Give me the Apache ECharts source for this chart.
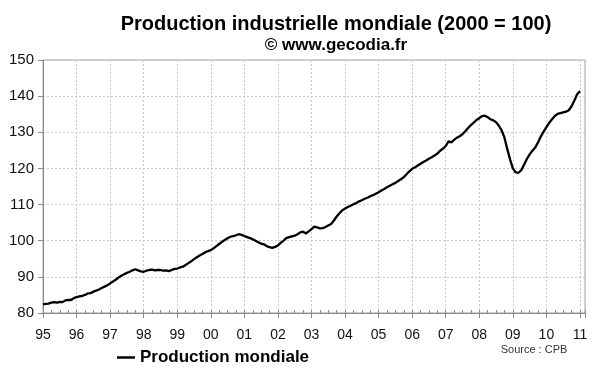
<!DOCTYPE html>
<html>
<head>
<meta charset="utf-8">
<script src="https://cdn.jsdelivr.net/npm/echarts@6/dist/echarts.min.js"></script>
<style>html,body{margin:0;padding:0;background:#fff}#c{width:600px;height:372px}</style>
</head>
<body>
<div id="c"></div>
<script>
// Monthly index, Jan 1995 .. Jan 2011 (2000 = 100)
const startYear = 1995;
const yearLabels = ['95','96','97','98','99','00','01','02','03','04','05','06','07','08','09','10','11'];
const v1995 = [82.4, 82.5, 82.6, 82.9, 83.0, 82.9, 83.1, 83.0, 83.5, 83.6, 83.6, 84.1];
const v1996 = [84.4, 84.6, 84.7, 85.0, 85.4, 85.5, 85.9, 86.2, 86.5, 86.9, 87.3, 87.7];
const v1997 = [88.2, 88.7, 89.2, 89.8, 90.3, 90.7, 91.1, 91.4, 91.8, 92.1, 91.8, 91.5];
const v1998 = [91.4, 91.7, 91.9, 92.0, 91.8, 91.9, 91.9, 91.7, 91.8, 91.6, 91.9, 92.2];
const v1999 = [92.3, 92.6, 92.8, 93.3, 93.8, 94.3, 94.9, 95.4, 95.9, 96.3, 96.8, 97.1];
const v2000 = [97.4, 97.9, 98.5, 99.1, 99.7, 100.2, 100.7, 101.1, 101.3, 101.5, 101.8, 101.6];
const v2001 = [101.3, 101.0, 100.7, 100.4, 100.0, 99.6, 99.2, 99.0, 98.5, 98.2, 98.0, 98.3];
const v2002 = [98.7, 99.4, 100.0, 100.7, 101.0, 101.2, 101.4, 101.8, 102.3, 102.5, 102.0, 102.6];
const v2003 = [103.2, 103.9, 103.7, 103.4, 103.5, 103.8, 104.2, 104.6, 105.6, 106.7, 107.6, 108.4];
const v2004 = [108.9, 109.3, 109.7, 110.1, 110.4, 110.9, 111.2, 111.6, 111.9, 112.3, 112.6, 113.0];
const v2005 = [113.4, 113.9, 114.3, 114.8, 115.2, 115.6, 116.0, 116.5, 117.0, 117.6, 118.4, 119.2];
const v2006 = [119.9, 120.3, 120.8, 121.3, 121.8, 122.2, 122.7, 123.1, 123.6, 124.1, 124.9, 125.5];
const v2007 = [126.2, 127.5, 127.2, 127.9, 128.5, 128.9, 129.5, 130.3, 131.2, 132.0, 132.7, 133.4];
const v2008 = [133.9, 134.5, 134.6, 134.2, 133.6, 133.3, 132.8, 131.8, 130.5, 128.5, 125.4, 122.5];
const v2009 = [120.0, 118.9, 118.8, 119.5, 121.0, 122.6, 123.9, 124.9, 125.8, 127.2, 128.8, 130.2];
const v2010 = [131.4, 132.6, 133.6, 134.5, 135.1, 135.3, 135.5, 135.7, 136.1, 137.2, 138.8, 140.5];
const v2011 = [141.4];

const values = [].concat(v1995, v1996, v1997, v1998, v1999, v2000, v2001, v2002, v2003,
  v2004, v2005, v2006, v2007, v2008, v2009, v2010, v2011);
const seriesData = values.map((v, i) => [i / 12, v]);

const xMax = 16.15;
const gridCol = '#c8c8c8';
const axisCol = '#8c8c8c';
const font = 'Liberation Sans, Arial, sans-serif';

const chart = echarts.init(document.getElementById('c'), null, {renderer: 'canvas'});
chart.setOption({
  backgroundColor: '#fff',
  animation: false,
  grid: {left: 43, right: 15, top: 60, bottom: 59, show: true, borderColor: '#a0a0a0', borderWidth: 1, backgroundColor: 'transparent'},
  graphic: [
    {type: 'text', x: 336, y: 24, style: {text: 'Production industrielle mondiale (2000 = 100)', font: 'bold 20px ' + font, fill: '#000', textAlign: 'center', textVerticalAlign: 'middle'}},
    {type: 'text', x: 336, y: 45, style: {text: '© www.gecodia.fr', font: 'bold 17px ' + font, fill: '#000', textAlign: 'center', textVerticalAlign: 'middle'}},
    {type: 'text', x: 534, y: 350, style: {text: 'Source : CPB', font: '11px ' + font, fill: '#333', textAlign: 'center', textVerticalAlign: 'middle'}}
  ],
  legend: {
    left: 112, top: 344, icon: 'rect', itemWidth: 18, itemHeight: 2.5, itemGap: 6,
    textStyle: {fontFamily: font, fontWeight: 'bold', fontSize: 17, color: '#000'},
    data: ['Production mondiale']
  },
  xAxis: [{
    type: 'value', min: 0, max: xMax, interval: 1,
    axisLine: {show: true, lineStyle: {color: axisCol, width: 1}},
    axisTick: {show: true, inside: true, length: 3, lineStyle: {color: axisCol}},
    minorTick: {show: true, splitNumber: 4, length: 3, lineStyle: {color: axisCol}},
    axisLabel: {
      show: true, margin: 15, fontFamily: font, fontSize: 14, color: '#111',
      formatter: function (v) {
        const r = Math.round(v);
        if (Math.abs(v - r) > 1e-6) return '';
        return yearLabels[r] || '';
      }
    },
    splitLine: {show: true, lineStyle: {color: gridCol, type: [2, 2], width: 1}}
  }, {
    type: 'value', min: 0, max: xMax, interval: 1, position: 'bottom', gridIndex: 0,
    axisLine: {show: false},
    axisTick: {show: true, inside: false, length: 5, lineStyle: {color: axisCol}},
    axisLabel: {show: false},
    splitLine: {show: false}
  }],
  yAxis: {
    type: 'value', min: 80, max: 150, interval: 10,
    axisLine: {show: true, lineStyle: {color: axisCol, width: 1}},
    axisTick: {show: true, inside: false, length: 5, lineStyle: {color: axisCol}},
    axisLabel: {margin: 9, fontFamily: font, fontSize: 15, color: '#111'},
    splitLine: {show: true, lineStyle: {color: gridCol, type: [2, 2], width: 1}}
  },
  series: [{
    name: 'Production mondiale', type: 'line', xAxisIndex: 0,
    data: seriesData, showSymbol: false, symbol: 'none', smooth: false,
    lineStyle: {color: '#000', width: 2.3}, itemStyle: {color: '#000'}
  }]
});
</script>
</body>
</html>
